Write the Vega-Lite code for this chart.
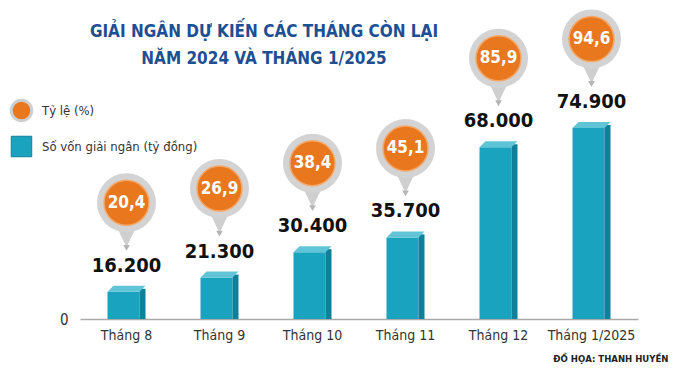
{
  "$schema": "https://vega.github.io/schema/vega-lite/v6.json",
  "width": 558,
  "height": 244,
  "autosize": {"type": "none"},
  "padding": {"left": 80, "top": 75, "right": 42, "bottom": 56},
  "background": "white",
  "config": {
    "view": {"stroke": null},
    "locale": {"number": {"decimal": ",", "thousands": ".", "grouping": [3], "currency": ["", ""]}},
    "font": "'DejaVu Sans Condensed', 'Liberation Sans Narrow', sans-serif"
  },
  "title": {
    "text": ["GIẢI NGÂN DỰ KIẾN CÁC THÁNG CÒN LẠI", "NĂM 2024 VÀ THÁNG 1/2025"],
    "anchor": "middle",
    "dx": -95,
    "offset": -58,
    "font": "'DejaVu Sans Condensed', 'Liberation Sans Narrow', sans-serif",
    "fontSize": 17,
    "fontWeight": "bold",
    "color": "#1d4f92",
    "lineHeight": 27
  },
  "data": {
    "values": [
      {"thang": "Tháng 8", "von": 16200, "tyle": 20.4},
      {"thang": "Tháng 9", "von": 21300, "tyle": 26.9},
      {"thang": "Tháng 10", "von": 30400, "tyle": 38.4},
      {"thang": "Tháng 11", "von": 35700, "tyle": 45.1},
      {"thang": "Tháng 12", "von": 68000, "tyle": 85.9},
      {"thang": "Tháng 1/2025", "von": 74900, "tyle": 94.6}
    ]
  },
  "encoding": {
    "x": {
      "field": "thang",
      "type": "nominal",
      "sort": null,
      "scale": {"paddingInner": 0, "paddingOuter": 0},
      "axis": {
        "title": "ĐỒ HỌA: THANH HUYỀN",
        "titleAnchor": "end",
        "titleAlign": "right",
        "titleX": 588,
        "titleY": 39,
        "titleBaseline": "middle",
        "titleFontSize": 9.5,
        "titleFontWeight": "bold",
        "titleColor": "#222222",
        "labelAngle": 0,
        "labelFontSize": 14,
        "labelColor": "#333333",
        "labelPadding": 9,
        "ticks": false,
        "domainColor": "#aaaaaa",
        "domainWidth": 1.5
      }
    },
    "y": {
      "field": "von",
      "type": "quantitative",
      "scale": {"domain": [6450, 93905], "zero": false, "nice": false},
      "axis": {
        "values": [6450],
        "labelExpr": "'0'",
        "title": null,
        "domain": false,
        "ticks": false,
        "grid": false,
        "labelPadding": 12,
        "labelFontSize": 15,
        "labelColor": "#333333"
      }
    }
  },
  "layer": [
    {
      "mark": {"type": "bar", "width": 32, "xOffset": -3},
      "encoding": {
        "y2": {"datum": 6450},
        "color": {
          "datum": "Số vốn giải ngân (tỷ đồng)",
          "scale": {"domain": ["Tỷ lệ (%)", "Số vốn giải ngân (tỷ đồng)"], "range": ["#e8771e", "#1aa3bf"]},
          "legend": {
            "orient": "none",
            "legendX": -65,
            "legendY": 29,
            "title": null,
            "symbolSize": 420,
            "rowPadding": 7,
            "labelFontSize": 13,
            "labelLimit": 300,
            "labelColor": "#333333",
            "labelOffset": 14,
            "symbolOpacity": 1,
            "encode": {
              "symbols": {
                "update": {
                  "shape": {"signal": "datum.value == 'Tỷ lệ (%)' ? 'circle' : 'square'"},
                  "stroke": {"signal": "datum.value == 'Tỷ lệ (%)' ? '#cfcfcf' : '#0e8099'"},
                  "strokeWidth": {"signal": "datum.value == 'Tỷ lệ (%)' ? 3 : 1"}
                }
              }
            }
          }
        }
      }
    },
    {
      "mark": {"type": "bar", "width": 6, "xOffset": 16, "yOffset": -3, "color": "#0e8099"},
      "encoding": {"y2": {"datum": 6450}}
    },
    {
      "mark": {"type": "point", "filled": true, "opacity": 1, "size": 1444, "color": "#5fc4d6", "shape": "M-1,0 L0.684,0 L1,-0.316 L-0.684,-0.316 Z"},
      "encoding": {}
    },
    {
      "mark": {"type": "point", "filled": true, "opacity": 1, "size": 289, "color": "#cfcfcf", "yOffset": -53, "shape": "M-0.95,-1 L0.95,-1 L0,1 Z"},
      "encoding": {}
    },
    {
      "mark": {"type": "point", "filled": true, "opacity": 1, "size": 45, "color": "#b5b5b5", "yOffset": -44, "shape": "triangle-down"},
      "encoding": {}
    },
    {
      "mark": {"type": "point", "filled": true, "opacity": 1, "size": 3481, "color": "#d3d3d3", "yOffset": -89, "shape": "circle"},
      "encoding": {}
    },
    {
      "mark": {"type": "point", "filled": true, "opacity": 1, "size": 2025, "yOffset": -89, "shape": "circle", "stroke": "#f3a86a", "strokeWidth": 1.5},
      "encoding": {"color": {"datum": "Tỷ lệ (%)"}}
    },
    {
      "mark": {"type": "text", "yOffset": -89, "color": "white", "fontSize": 17, "fontWeight": "bold", "baseline": "middle"},
      "encoding": {"text": {"field": "tyle", "type": "quantitative", "format": ".1f"}}
    },
    {
      "mark": {"type": "text", "yOffset": -26, "color": "#111111", "fontSize": 20, "fontWeight": "bold", "baseline": "middle"},
      "encoding": {"text": {"field": "von", "type": "quantitative", "format": ",.0f"}}
    }
  ]
}
